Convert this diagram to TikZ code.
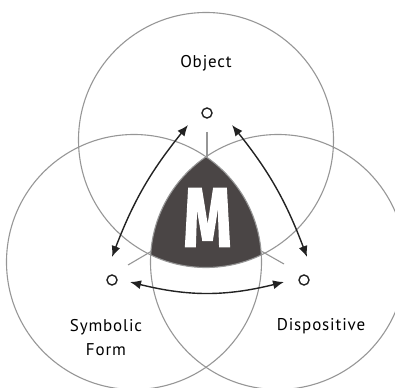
\documentclass[tikz,border=0pt]{standalone}
\usepackage{fontspec}
\setmainfont{PT Sans}[LetterSpace=5]
\newfontfamily\bigM{Fira Sans}[FakeBold=2]
\usetikzlibrary{arrows.meta}
\definecolor{ringgray}{HTML}{969696}
\definecolor{mfill}{HTML}{4A4545}
\definecolor{arrowcol}{HTML}{222222}
\tikzset{
  ring/.style={draw=ringgray, line width=1.1pt},
  spoke/.style={draw=ringgray, line width=1.1pt},
  dot/.style={circle, draw=arrowcol, line width=1.4pt, minimum size=10pt, inner sep=0pt},
  link/.style={draw=arrowcol, line width=1.4pt, {Latex[length=11pt,width=9pt]}-{Latex[length=11pt,width=9pt]}},
  lbl/.style={font=\fontsize{17}{24}\selectfont, text=black, align=center, inner sep=0pt}
}
\begin{document}
\begin{tikzpicture}[x=1pt,y=-1pt]
\useasboundingbox (0,0) rectangle (395,387);
\clip (0,0) rectangle (395,387);
\coordinate (ct) at (206,140);
\coordinate (cl) at (134,262);
\coordinate (cr) at (278,262);
% central shaded region
\begin{scope}
  \clip (ct) circle[radius=127.5pt];
  \clip (cl) circle[radius=127.5pt];
  \fill[mfill] (cr) circle[radius=127.5pt];
\end{scope}
\draw[ring] (ct) circle[radius=127.5pt];
\draw[ring] (cl) circle[radius=127.5pt];
\draw[ring] (cr) circle[radius=127.5pt];
% spokes
\draw[spoke] (207,132) -- (207,157);
\draw[spoke] (128,265) -- (151,251.5);
\draw[spoke] (284,264) -- (262,251.5);
% M
\node[inner sep=0pt, text=white] (M) at (207.5,217.5) {\resizebox{48pt}{58pt}{\bigM\bfseries M}};
% dots
\node[dot] (dt) at (207,113) {};
\node[dot] (dl) at (112,280) {};
\node[dot] (dr) at (304,280) {};
% arrow ends
\coordinate (tl1) at (188,125);
\coordinate (tl2) at (112,257);
\coordinate (tr1) at (232,125);
\coordinate (tr2) at (307,257);
\coordinate (b1) at (130,282);
\coordinate (b2) at (284,282);
\draw[link] (tl1) to[bend right=9] (tl2);
\draw[link] (tr1) to[bend left=9] (tr2);
\draw[link] (b1) to[bend right=14] (b2);
% labels
\node[lbl] (obj) at (206,63) {Object};
\node[lbl] (sym) at (106,338) {Symbolic\\Form};
\node[lbl] (dis) at (321,326) {Dispositive};
\end{tikzpicture}
\end{document}
